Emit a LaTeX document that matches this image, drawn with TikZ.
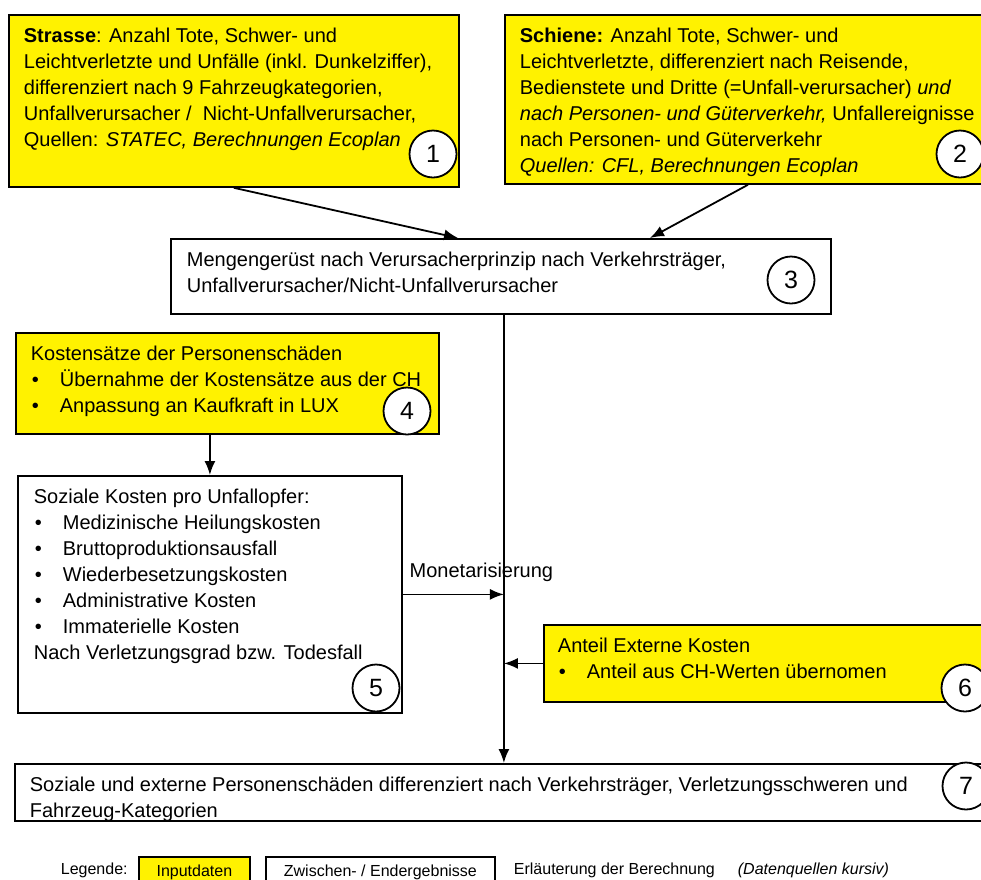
\documentclass[tikz,border=0pt]{standalone}
\usepackage{fontspec}
\setmainfont{Liberation Sans}
\usepackage{xcolor}
\usepackage{tikz}
\usetikzlibrary{positioning}
\usetikzlibrary{arrows.meta}
\tikzset{edge/.style = {->,> = {Latex[length=14pt,width=11pt]}}}
\newcommand\boxtext[3]{\parbox[t][#2][t]{#1}{\raggedright\vspace*{9pt}\strut#3}}
\newcommand\itm{\makebox[29pt][l]{\hspace{1pt}\textbullet}}

\begin{document}
\begin{tikzpicture}[x=1pt,y=-1pt,line width=1.8pt,font=\fontsize{20}{26}\selectfont,
    inbox/.style={draw,fill=yellow,anchor=north west,inner ysep=0pt},
    resbox/.style={draw,fill=white,anchor=north west,inner ysep=0pt},
    num/.style={circle,draw,fill=white,minimum size=47pt,inner sep=0pt,font=\fontsize{25}{25}\selectfont},
    legbox/.style={draw,anchor=north west,minimum height=30pt,inner sep=0pt,font=\fontsize{16}{20}\selectfont},
    legtext/.style={anchor=base west,inner sep=0pt,font=\fontsize{16}{20}\selectfont}]
                \useasboundingbox (0,0) rectangle (981,879);

                \node[inbox,inner xsep=15pt] (1) at (8,14) {\boxtext{420pt}{172pt}{\textbf{Strasse}: Anzahl Tote, Schwer- und\\
                    Leichtverletzte und Unfälle (inkl. Dunkelziffer),\\
                    differenziert nach 9 Fahrzeugkategorien,\\
                    Unfallverursacher /\ \ Nicht-Unfallverursacher,\\
                    Quellen: \textit{STATEC, Berechnungen Ecoplan}}};
                \node[inbox,inner xsep=15pt] (2) at (504,14) {\boxtext{456pt}{169pt}{\textbf{Schiene:} Anzahl Tote, Schwer- und\\
                    Leichtverletzte, differenziert nach Reisende,\\
                    Bedienstete und Dritte (=Unfall-verursacher) \textit{und}\\
                    \textit{nach Personen- und Güterverkehr,} Unfallereignisse\\
                    nach Personen- und Güterverkehr\\
                    \textit{Quellen: CFL, Berechnungen Ecoplan}}};
                \node[resbox,inner xsep=16pt] (3) at (170,238) {\boxtext{628pt}{75pt}{Mengengerüst nach Verursacherprinzip nach Verkehrsträger,\\
                    Unfallverursacher/Nicht-Unfallverursacher}};
                \node[inbox,inner xsep=15pt] (4) at (15,332) {\boxtext{393pt}{101pt}{Kostensätze der Personenschäden\\
                    \itm Übernahme der Kostensätze aus der CH\\
                    \itm Anpassung an Kaufkraft in LUX}};
                \node[resbox,inner xsep=16pt] (5) at (17,475) {\boxtext{352pt}{237pt}{Soziale Kosten pro Unfallopfer:\\
                    \itm Medizinische Heilungskosten\\
                    \itm Bruttoproduktionsausfall\\
                    \itm Wiederbesetzungskosten\\
                    \itm Administrative Kosten\\
                    \itm Immaterielle Kosten\\
                    Nach Verletzungsgrad bzw. Todesfall}};
                \node[inbox,inner xsep=14pt] (6) at (543,624) {\boxtext{419pt}{77pt}{Anteil Externe Kosten\\
                    \itm Anteil aus CH-Werten übernomen}};
                \node[resbox,inner xsep=15pt] (7) at (14,763) {\boxtext{946pt}{57pt}{Soziale und externe Personenschäden differenziert nach Verkehrsträger, Verletzungsschweren und\\
                    Fahrzeug-Kategorien}};

                % Nummern
                \node[num] (k1) at (433,154) {1};
                \node[num] (k2) at (960,154) {2};
                \node[num] (k3) at (791,280) {3};
                \node[num] (k4) at (407,411) {4};
                \node[num] (k5) at (376,688) {5};
                \node[num] (k6) at (965,688) {6};
                \node[num] (k7) at (966,786) {7};

                % Pfeile
                \coordinate (top) at ([xshift=3pt]3.south);
                \path[line width=1.8pt]
                    (1.south) edge[edge] ([xshift=288pt]3.north west)
                    (2.south) edge[edge] ([xshift=480pt]3.north west)
                    (top) edge[edge] (top |- 7.north)
                    (5.north |- 4.south) edge[edge] (5.north)
                    (6.west) edge[edge] (top |- 6.west)
                    ;
                \draw[edge] (5.east) -- node[pos=0,anchor=base west,xshift=6pt,yshift=17pt,inner sep=0pt] (mon) {Monetarisierung} (top |- 5.east);

                % Legende
                \node[legtext] (leg) at (60,874) {Legende:};
                \node[legbox,fill=yellow,minimum width=111pt] (l1) at (138,856) {Inputdaten};
                \node[legbox,fill=white,minimum width=229pt] (l2) at (265,856) {Zwischen- / Endergebnisse};
                \node[legtext] (l3) at (513,874) {Erläuterung der Berechnung};
                \node[legtext] (l4) at (737,874) {\textit{(Datenquellen kursiv)}};
            \end{tikzpicture}
\end{document}
